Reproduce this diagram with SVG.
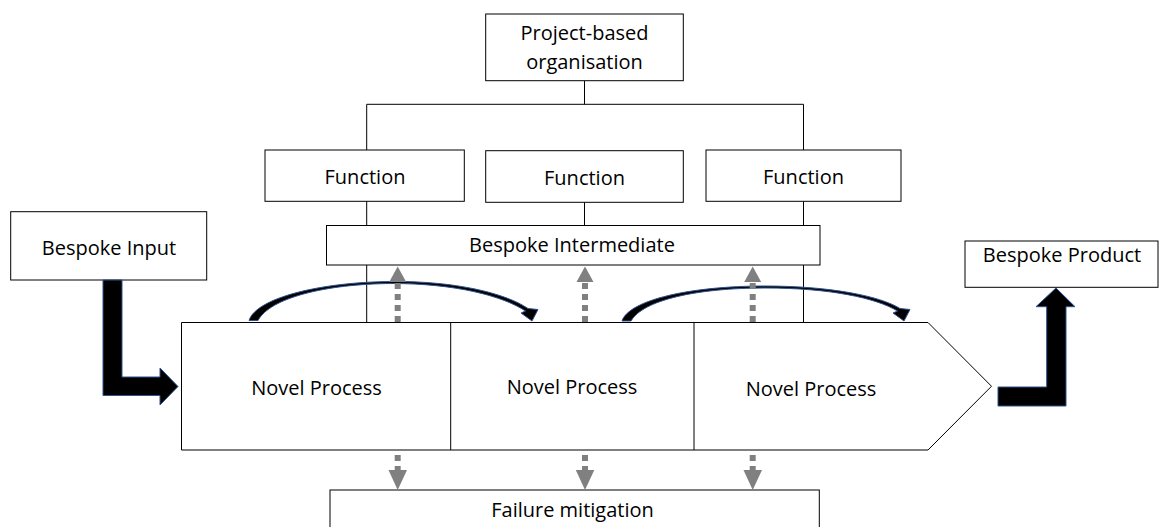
<svg xmlns="http://www.w3.org/2000/svg" width="1163" height="527" viewBox="0 0 1163 527">
<style>
.box{fill:#fff;stroke:#000;stroke-width:1}
.ln{fill:none;stroke:#000;stroke-width:1}
.t{font-family:"Open Sans","Liberation Sans",sans-serif;font-size:20px;fill:#000;text-anchor:middle}
.big{fill:#000;stroke:#2F528F;stroke-width:1;stroke-linejoin:miter}
.dash{fill:none;stroke:#808080;stroke-width:6;stroke-dasharray:6 5}
.head{fill:#808080;stroke:none}
</style>
<rect width="1163" height="527" fill="#fff"/>
<g id="connectors">
  <path class="ln" d="M584.5,80.7 V104.3 M366.7,104.3 H803.5 M366.7,104.3 V150 M803.5,104.3 V150"/>
  <path class="ln" d="M366.7,201 V324 M584.5,202 V226 M803.5,201 V322.5"/>
</g>
<g id="project-org">
  <rect class="box" x="485.7" y="14" width="197.6" height="66.7"/>
  <text class="t" x="584.5" y="40">Project-based</text>
  <text class="t" x="584.5" y="69">organisation</text>
</g>
<g id="function-1">
  <rect class="box" x="265" y="150" width="199.3" height="51.3"/>
  <text class="t" x="365" y="184">Function</text>
</g>
<g id="function-2">
  <rect class="box" x="485.7" y="150.7" width="197.6" height="51.6"/>
  <text class="t" x="584.5" y="185">Function</text>
</g>
<g id="function-3">
  <rect class="box" x="706" y="150" width="195" height="51.3"/>
  <text class="t" x="803.5" y="184">Function</text>
</g>
<g id="bespoke-intermediate">
  <rect class="box" x="326.5" y="225.5" width="493.5" height="39.5"/>
  <text class="t" x="572" y="252">Bespoke Intermediate</text>
</g>
<g id="bespoke-input">
  <rect class="box" x="10.7" y="211.7" width="196" height="68.3"/>
  <text class="t" x="109" y="255">Bespoke Input</text>
</g>
<g id="bespoke-product">
  <rect class="box" x="965" y="241" width="193" height="46.3"/>
  <text class="t" x="1062" y="262">Bespoke Product</text>
</g>
<g id="process-chain">
  <polygon class="box" points="181.5,322.5 928,322.5 991.5,386.25 928,450 181.5,450"/>
  <path class="ln" d="M450.7,322.5 V450 M694,322.5 V450"/>
  <text class="t" x="316.5" y="395">Novel Process</text>
  <text class="t" x="572" y="394">Novel Process</text>
  <text class="t" x="811" y="396">Novel Process</text>
</g>
<g id="failure-mitigation">
  <rect class="box" x="330" y="490" width="489.3" height="60"/>
  <text class="t" x="572.5" y="517">Failure mitigation</text>
</g>
<g id="flow-arrows">
  <path class="big" d="M103,280 H122 V377 H160 V368 L178,386.5 L160,405 V395.5 H103 Z"/>
  <path class="big" d="M998,387 H1046.7 V306.7 H1036 L1056,288 L1075,306.7 H1066 V406 H998 Z"/>
  <path class="big" d="M249,320.5 C256,298 320,282 392,281.5 C455,281 505,293 528,308.5 L538,309.5 L532,321 L521,313 L525.5,311 C503,296 455,283.5 392,283.5 C325,284 270,298 258,320.5 Z"/>
  <path class="big" d="M622,321 C629,300 690,286 765,286 C830,286 880,296 900,308.5 L910,309.5 L904,321 L893,313 L897.5,311 C876,298 830,288 765,288 C697,288 643,300 631,321 Z"/>
</g>
<g id="dashed-arrows">
  <path class="dash" d="M397.7,322 V282 M585,322 V282 M752.7,322 V282"/>
  <polygon class="head" points="389.2,282 406.2,282 397.7,266.5"/>
  <polygon class="head" points="576.5,282 593.5,282 585,266.5"/>
  <polygon class="head" points="744.2,282 761.2,282 752.7,266.5"/>
  <path class="dash" d="M397.7,455 V471 M585,455 V471 M752.7,455 V471"/>
  <polygon class="head" points="388.5,470 407,470 397.7,490"/>
  <polygon class="head" points="575.8,470 594.3,470 585,490"/>
  <polygon class="head" points="743.5,470 762,470 752.7,490"/>
</g>
</svg>
